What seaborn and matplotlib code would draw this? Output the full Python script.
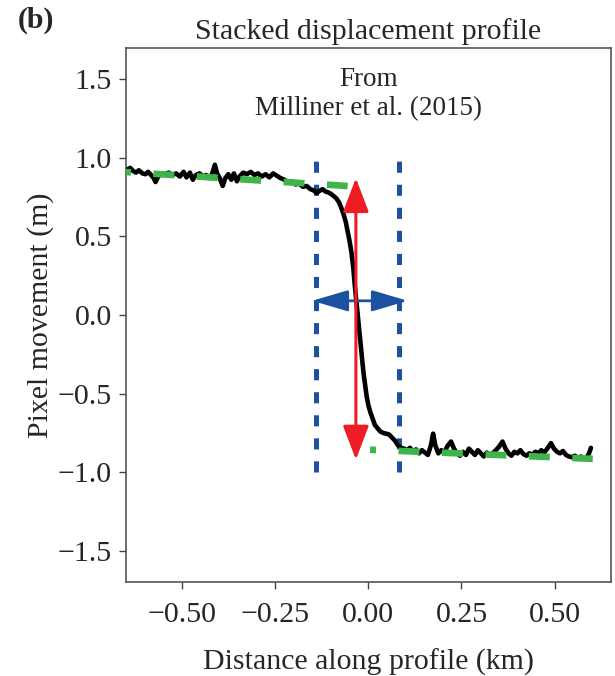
import matplotlib
matplotlib.use("Agg")
import matplotlib.pyplot as plt
from matplotlib.patches import FancyArrowPatch
import numpy as np
import pandas as pd
import seaborn as sns

# Stacked displacement profile across the fault (km, m)
profile_x = [
    -0.645, -0.638, -0.630, -0.622, -0.615, -0.605, -0.597, -0.590, -0.582, -0.575,
    -0.570, -0.563, -0.555, -0.545, -0.535, -0.525, -0.515, -0.505, -0.495, -0.487,
    -0.478, -0.470, -0.462, -0.452, -0.443, -0.435, -0.425, -0.418, -0.411, -0.405,
    -0.398, -0.390, -0.383, -0.375, -0.367, -0.360, -0.352, -0.345, -0.335, -0.325,
    -0.315, -0.305, -0.295, -0.285, -0.275, -0.265, -0.255, -0.245, -0.235, -0.225,
    -0.215, -0.205, -0.195, -0.185, -0.175, -0.165, -0.155, -0.145, -0.138, -0.130,
    -0.122, -0.115, -0.108, -0.100, -0.092, -0.085, -0.078, -0.072, -0.066, -0.060,
    -0.055, -0.050, -0.045, -0.040, -0.036, -0.032, -0.028, -0.024, -0.020, -0.016,
    -0.012, -0.008, -0.004, 0.001, 0.006, 0.012, 0.018, 0.025, 0.032, 0.040,
    0.048, 0.056, 0.064, 0.072, 0.080, 0.088, 0.096, 0.104, 0.112, 0.120,
    0.128, 0.136, 0.144, 0.152, 0.160, 0.168, 0.174, 0.180, 0.188, 0.196,
    0.204, 0.212, 0.222, 0.230, 0.238, 0.246, 0.254, 0.262, 0.270, 0.278,
    0.286, 0.294, 0.302, 0.310, 0.318, 0.326, 0.334, 0.342, 0.350, 0.360,
    0.368, 0.376, 0.384, 0.392, 0.400, 0.408, 0.416, 0.424, 0.432, 0.440,
    0.448, 0.456, 0.464, 0.472, 0.480, 0.490, 0.498, 0.506, 0.514, 0.522,
    0.530, 0.538, 0.546, 0.554, 0.562, 0.570, 0.578, 0.586, 0.592, 0.597,
]
profile_y = [
    0.925, 0.935, 0.915, 0.905, 0.920, 0.900, 0.895, 0.910, 0.890, 0.870,
    0.845, 0.880, 0.900, 0.895, 0.905, 0.890, 0.900, 0.880, 0.910, 0.875,
    0.905, 0.860, 0.890, 0.900, 0.880, 0.890, 0.870, 0.900, 0.955, 0.900,
    0.870, 0.820, 0.870, 0.895, 0.860, 0.900, 0.850, 0.880, 0.905, 0.895,
    0.910, 0.890, 0.900, 0.880, 0.895, 0.875, 0.900, 0.885, 0.870, 0.860,
    0.845, 0.850, 0.830, 0.835, 0.815, 0.820, 0.800, 0.790, 0.775, 0.790,
    0.800, 0.785, 0.780, 0.770, 0.755, 0.740, 0.715, 0.680, 0.640, 0.590,
    0.530, 0.470, 0.400, 0.300, 0.190, 0.090, 0.000, -0.100, -0.190, -0.290,
    -0.380, -0.450, -0.520, -0.580, -0.620, -0.660, -0.700, -0.720, -0.740, -0.750,
    -0.755, -0.760, -0.780, -0.800, -0.830, -0.845, -0.850, -0.860, -0.845, -0.870,
    -0.855, -0.880, -0.860, -0.875, -0.890, -0.830, -0.755, -0.830, -0.880, -0.860,
    -0.875, -0.835, -0.805, -0.850, -0.880, -0.895, -0.870, -0.890, -0.850, -0.870,
    -0.890, -0.860, -0.880, -0.900, -0.875, -0.890, -0.880, -0.860, -0.840, -0.805,
    -0.850, -0.880, -0.895, -0.870, -0.880, -0.860, -0.885, -0.895, -0.880, -0.890,
    -0.870, -0.880, -0.860, -0.875, -0.850, -0.815, -0.850, -0.870, -0.880, -0.865,
    -0.890, -0.900, -0.905, -0.895, -0.910, -0.900, -0.915, -0.905, -0.880, -0.845,
]

# Linear fits to the far-field blocks on either side of the fault
fit_west_x = [-0.692, -0.055]
fit_west_y = [0.915, 0.820]
fit_east_x = [0.005, 0.602]
fit_east_y = [-0.857, -0.915]

# Width of the fault zone and measured offset
zone_edges = [-0.139, 0.083]
zone_span = [-1.0, 1.0]
width_arrow_x = [-0.150, 0.106]
width_arrow_y = 0.09
offset_arrow_x = -0.033
offset_arrow_y = [0.87, -0.92]

x_ticks = [-0.50, -0.25, 0.00, 0.25, 0.50]
y_ticks = [-1.5, -1.0, -0.5, 0.0, 0.5, 1.0, 1.5]

sns.set_style("ticks")
plt.rcParams["font.family"] = ["Liberation Serif", "DejaVu Serif"]
plt.rcParams["lines.scale_dashes"] = False

BLUE = "#1c51a0"
RED = "#ee1c24"
GREEN = "#3db54a"
FS = 21.5

fig = plt.figure(figsize=(6.15, 6.76), dpi=100)
ax = fig.add_axes([0.2044, 0.1386, 0.7886, 0.791])

df = pd.DataFrame({"x": profile_x, "y": profile_y})
sns.lineplot(data=df, x="x", y="y", color="black", lw=3.3, ax=ax, zorder=3)

# fitted lines (dashed green); dash lengths in points at 100 dpi
ax.plot(fit_west_x, fit_west_y, color=GREEN, lw=4.8,
        linestyle=(0, (15.1, 16.2)), dash_capstyle="butt", zorder=4)
ax.plot(fit_east_x, fit_east_y, color=GREEN, lw=4.8,
        linestyle=(10.8, (15.1, 16.2)), dash_capstyle="butt", zorder=4)

# fault-zone boundaries
for xe in zone_edges:
    ax.plot([xe, xe], zone_span, color=BLUE, lw=3.6,
            linestyle=(0, (8.0, 8.6)), dash_capstyle="butt", zorder=2)

# width and offset arrows
ax.add_patch(FancyArrowPatch((width_arrow_x[0], width_arrow_y),
                             (width_arrow_x[1], width_arrow_y),
                             arrowstyle="<|-|>,head_length=22,head_width=6.5",
                             mutation_scale=1, lw=2.0, color=BLUE,
                             shrinkA=0, shrinkB=0, zorder=5))
ax.add_patch(FancyArrowPatch((offset_arrow_x, offset_arrow_y[0]),
                             (offset_arrow_x, offset_arrow_y[1]),
                             arrowstyle="<|-|>,head_length=21,head_width=8",
                             mutation_scale=1, lw=2.2, color=RED,
                             shrinkA=0, shrinkB=0, zorder=6))

ax.text(0.0, 1.5, "From", ha="center", va="center", fontsize=19.5)
ax.text(0.0, 1.31, "Milliner et al. (2015)", ha="center", va="center",
        fontsize=19.5)

ax.set_xlim(-0.65, 0.65)
ax.set_ylim(-1.7, 1.7)
ax.set_xticks(x_ticks)
ax.set_xticklabels([f"{v:.2f}".replace("-", "\u2212") for v in x_ticks])
ax.set_yticks(y_ticks)
ax.set_yticklabels([f"{v:.1f}".replace("-", "\u2212") for v in y_ticks])
ax.tick_params(axis="both", labelsize=FS, length=5, width=1.0, color="#444444",
               direction="out")
ax.tick_params(axis="x", pad=9)
ax.tick_params(axis="y", pad=5)
for s in ax.spines.values():
    s.set_color("#555555")
    s.set_linewidth(1.2)

ax.set_xlabel("Distance along profile (km)", fontsize=FS, labelpad=15)
ax.set_ylabel("Pixel movement (m)", fontsize=FS, labelpad=3)
ax.set_title("Stacked displacement profile", fontsize=FS, pad=6)
fig.text(0.029, 0.970, "(b)", fontsize=FS, fontweight="bold", ha="left",
         va="center")

fig.savefig("out.png", dpi=100)
